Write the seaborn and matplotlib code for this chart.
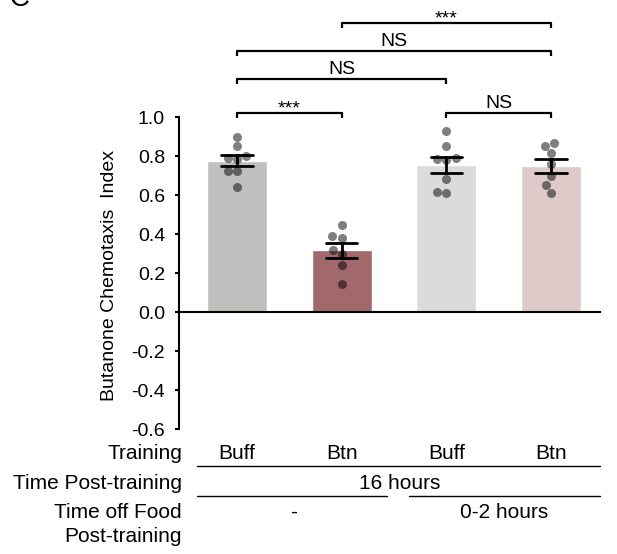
import numpy as np
import pandas as pd
import matplotlib
matplotlib.use("Agg")
import matplotlib.pyplot as plt
import seaborn as sns

# Chemotaxis index of individual assays, one list per group
groups = ["Buff 16h", "Btn 16h", "Buff 16h off food", "Btn 16h off food"]
buff_16h = [0.90, 0.85, 0.80, 0.79, 0.785, 0.725, 0.725, 0.64]
btn_16h = [0.445, 0.38, 0.39, 0.32, 0.30, 0.24, 0.145]
buff_off_food = [0.93, 0.85, 0.79, 0.785, 0.78, 0.68, 0.61, 0.615]
btn_off_food = [0.865, 0.85, 0.815, 0.76, 0.695, 0.65, 0.61]
bar_colors = ["#bfbfbd", "#ab6064", "#dcdbdb", "#e3c6c7"]

training = ["Buff", "Btn", "Buff", "Btn"]
time_post = "16 hours"
time_off_food = ["-", "0-2 hours"]
yticks = [-0.6, -0.4, -0.2, 0.0, 0.2, 0.4, 0.6, 0.8, 1.0]

# (left group, right group, label)
comparisons = [(0, 1, "***"), (2, 3, "NS"), (0, 2, "NS"), (0, 3, "NS"), (1, 3, "***")]


def make_df():
    values = [buff_16h, btn_16h, buff_off_food, btn_off_food]
    return pd.DataFrame({
        "group": np.repeat(groups, [len(v) for v in values]),
        "ci": np.concatenate(values),
    })


def create_plot(df):
    sns.set_style("ticks")
    plt.rcParams["font.family"] = ["Liberation Sans", "DejaVu Sans"]
    plt.rcParams["axes.unicode_minus"] = False
    plt.rcParams["text.color"] = "black"
    plt.rcParams["axes.labelcolor"] = "black"

    fig = plt.figure(figsize=(6.17, 5.54), dpi=100)
    ax = fig.add_axes([0.2901, 0.2256, 0.6823, 0.7744])

    sns.barplot(data=df, x="group", y="ci", hue="group", order=groups, hue_order=groups,
                palette=bar_colors, errorbar="se", capsize=0.3, width=0.573,
                err_kws={"color": "black", "linewidth": 2}, legend=False, ax=ax)
    for line in ax.lines:
        line.set_zorder(4)
    sns.swarmplot(data=df, x="group", y="ci", order=groups, color="black", alpha=0.5,
                  size=6.5, linewidth=0, zorder=3, ax=ax)

    ax.set_xlim(-0.554, 3.467)
    ax.set_ylim(-0.6, 1.6)
    sns.despine(ax=ax)
    ax.spines["bottom"].set_position(("data", 0))
    ax.spines["bottom"].set_linewidth(1.5)
    ax.spines["bottom"].set_color("black")
    ax.spines["left"].set_bounds(-0.6, 1.0)
    ax.spines["left"].set_linewidth(1.5)
    ax.spines["left"].set_color("black")
    ax.set_xticks([])
    ax.set_xlabel("")
    ax.set_yticks(yticks)
    ax.set_yticklabels([f"{t:.1f}" for t in yticks])
    ax.tick_params(axis="y", direction="out", length=3, width=1.5, labelsize=14, pad=7,
                   color="black", labelcolor="black")
    ax.set_ylabel("Butanone Chemotaxis  Index", fontsize=14, color="black")
    ax.yaxis.set_label_coords(-0.145, 0.357)

    # significance brackets
    levels = {(0, 1): 1.022, (2, 3): 1.022, (0, 2): 1.195, (0, 3): 1.34, (1, 3): 1.484}
    for a, b, label in comparisons:
        y = levels[(a, b)]
        ax.plot([a, a, b, b], [y - 0.027, y, y, y - 0.027], color="black", lw=1.6,
                clip_on=False, solid_capstyle="butt")
        dy = 0.026 if label == "NS" else -0.006
        ax.text((a + b) / 2, y + dy, label, ha="center", va="baseline", fontsize=14,
                color="black")

    # condition table under the axis
    tk = dict(fontsize=15, va="baseline", clip_on=False, color="black")
    lx = -0.525
    ax.text(lx, -0.755, "Training", ha="right", **tk)
    for i, t in enumerate(training):
        ax.text(i, -0.755, t, ha="center", **tk)
    ax.plot([-0.382, 3.467], [-0.788, -0.788], color="black", lw=1, clip_on=False)
    ax.text(lx, -0.906, "Time Post-training", ha="right", **tk)
    ax.text(1.557, -0.906, time_post, ha="center", **tk)
    ax.plot([-0.382, 1.433], [-0.944, -0.944], color="black", lw=1, clip_on=False)
    ax.plot([1.643, 3.467], [-0.944, -0.944], color="black", lw=1, clip_on=False)
    ax.text(lx, -1.055, "Time off Food", ha="right", **tk)
    ax.text(0.545, -1.055, time_off_food[0], ha="center", **tk)
    ax.text(2.555, -1.055, time_off_food[1], ha="center", **tk)
    ax.text(lx, -1.181, "Post-training", ha="right", **tk)

    # panel letter, cut by the top edge as in the source figure
    fig.text(0.016, 0.989, "C", fontsize=20, va="baseline", ha="left", color="black")
    return fig


def main():
    df = make_df()
    fig = create_plot(df)
    fig.savefig("out.png", dpi=100)


if __name__ == "__main__":
    main()
